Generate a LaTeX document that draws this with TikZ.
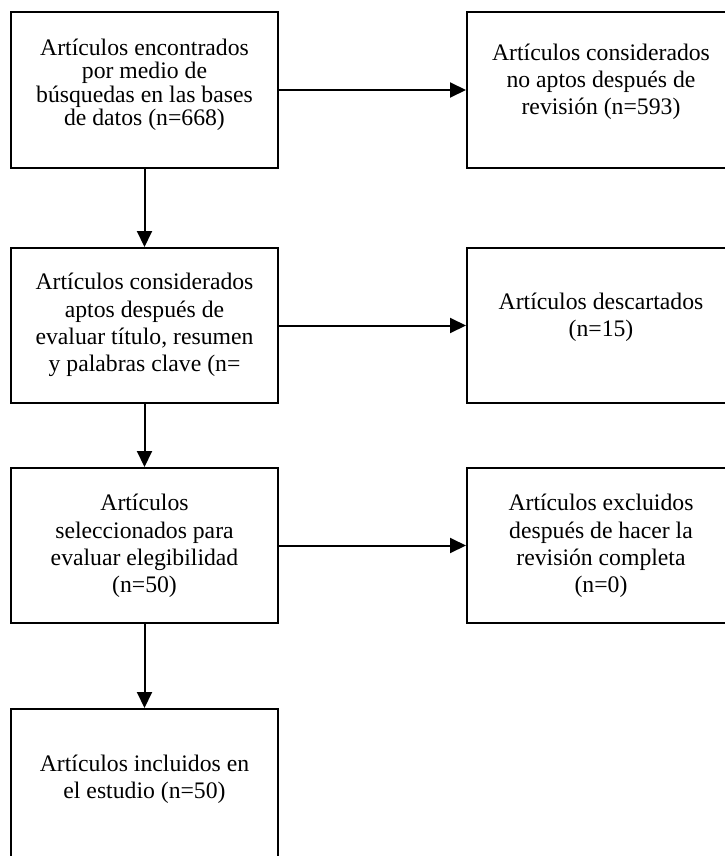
\documentclass[tikz,border=0pt]{standalone}
\usepackage{fontspec}
\setmainfont{Liberation Serif}
\usetikzlibrary{arrows.meta,calc}
\begin{document}
\begin{tikzpicture}[x=1pt,y=-1pt,
  box/.style={draw,line width=2pt,rectangle,minimum width=267pt,minimum height=155pt,inner sep=0pt},
  txt/.style={align=center,font=\fontsize{23.7pt}{27.2pt}\selectfont,inner sep=0pt},
  conn/.style={line width=2pt,-{Triangle[length=16pt,width=15pt]}}]
\useasboundingbox (0,0) rectangle (724,856);
\node[box] (b1) at (144.5,90) {};
\node[box] (r1) at (600.5,90) {};
\node[box] (b2) at (144.5,325.5) {};
\node[box] (r2) at (600.5,325.5) {};
\node[box] (b3) at (144.5,545.5) {};
\node[box] (r3) at (600.5,545.5) {};
\node[box] (b4) at (144.5,786.5) {};
\node[txt,font=\fontsize{23.7pt}{23.5pt}\selectfont] (t1) at (144.5,85) {Artículos encontrados\\por medio de\\búsquedas en las bases\\de datos (n=668)};
\node[txt] (tr1) at (601,82) {Artículos considerados\\no aptos después de\\revisión (n=593)};
\node[txt] (t2) at (144.5,325) {Artículos considerados\\aptos después de\\evaluar título, resumen\\y palabras clave (n=};
\node[txt] (tr2) at (601,317) {Artículos descartados\\(n=15)};
\node[txt] (t3) at (144.5,546) {Artículos\\seleccionados para\\evaluar elegibilidad\\(n=50)};
\node[txt] (tr3) at (601,546) {Artículos excluidos\\después de hacer la\\revisión completa\\(n=0)};
\node[txt] (t4) at (144.5,779) {Artículos incluidos en\\el estudio (n=50)};
\draw[conn] (b1) -- (r1);
\draw[conn] (b2) -- (r2);
\draw[conn] (b3) -- (r3);
\draw[conn] (b1) -- (b2);
\draw[conn] (b2) -- (b3);
\draw[conn] (b3) -- (b4);
\end{tikzpicture}
\end{document}
